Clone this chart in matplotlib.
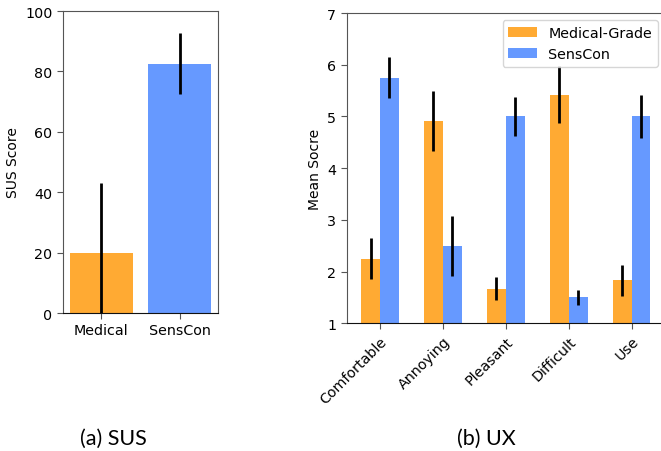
import numpy as np
import matplotlib.pyplot as plt

plt.rcParams['font.family'] = ['DejaVu Sans']
plt.rcParams['font.size'] = 10

ORANGE = '#ffaa33'
BLUE = '#6699ff'

# SUS scores
sus_groups = ['Medical', 'SensCon']
sus_mean = [20.0, 82.6]
sus_err = [23.0, 10.0]

# UX questionnaire
ux_items = ['Comfortable', 'Annoying', 'Pleasant', 'Difficult', 'Use']
med_mean = [2.25, 4.92, 1.67, 5.42, 1.83]
med_err = [0.39, 0.58, 0.22, 0.55, 0.30]
sens_mean = [5.75, 2.50, 5.00, 1.50, 5.00]
sens_err = [0.39, 0.58, 0.38, 0.14, 0.42]

fig = plt.figure(figsize=(6.61, 4.52), dpi=100)

def style_spines(ax, box=True):
    for side in ['left', 'top', 'right']:
        ax.spines[side].set_color('#555555')
    ax.spines['bottom'].set_color('#111111')
    if not box:
        ax.spines['right'].set_visible(False)
    ax.tick_params(color='#555555', length=4, labelsize=10.3)

# (a) SUS
ax1 = fig.add_axes([0.0953, 0.3053, 0.2345, 0.668])
ax1.bar(sus_groups, sus_mean, width=0.8, color=[ORANGE, BLUE])
ax1.errorbar(np.arange(len(sus_groups)), sus_mean, yerr=sus_err,
             fmt='none', ecolor='black', elinewidth=2, capsize=0)
ax1.set_ylim(0, 100)
ax1.set_yticks([0, 20, 40, 60, 80, 100])
ax1.set_ylabel('SUS Score')
style_spines(ax1)

# (b) UX
ax2 = fig.add_axes([0.5245, 0.2825, 0.4815, 0.6865])
x = np.arange(len(ux_items))
w = 0.3
ax2.bar(x - w / 2, med_mean, width=w, color=ORANGE, label='Medical-Grade')
ax2.bar(x + w / 2, sens_mean, width=w, color=BLUE, label='SensCon')
ax2.errorbar(x - w / 2, med_mean, yerr=med_err, fmt='none',
             ecolor='black', elinewidth=2, capsize=0)
ax2.errorbar(x + w / 2, sens_mean, yerr=sens_err, fmt='none',
             ecolor='black', elinewidth=2, capsize=0)
ax2.set_ylim(1, 7)
ax2.set_xlim(-0.53, 4.53)
ax2.set_xticks(x)
ax2.set_xticklabels(ux_items, rotation=45, ha='right', rotation_mode='anchor')
ax2.set_ylabel('Mean Socre')
ax2.legend(loc='upper right', fontsize=10.3)
style_spines(ax2, box=False)

# subfigure captions
cap_font = dict(family=['Lato', 'DejaVu Sans'], fontsize=15.5, ha='center', va='center')
fig.text(113 / 661, 1 - 439 / 452, '(a) SUS', **cap_font)
fig.text(486 / 661, 1 - 439 / 452, '(b) UX', **cap_font)

fig.savefig('out.png', dpi=100)
